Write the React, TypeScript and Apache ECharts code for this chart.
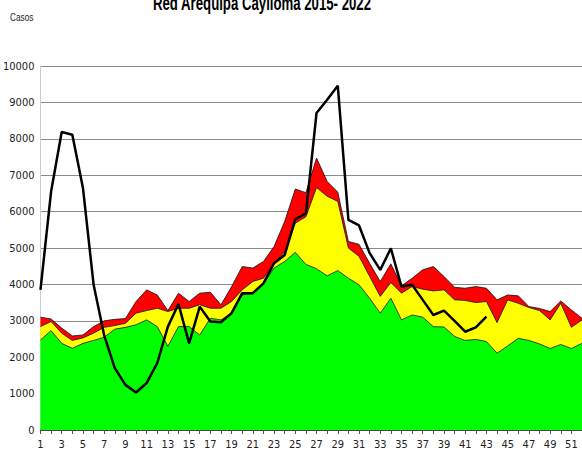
import React, { useEffect, useRef } from "react";
import * as echarts from "echarts";

const weeks: string[] = Array.from({ length: 52 }, (_, i) => String(i + 1));

// Bottom layer (green)
const greenValues: number[] = [
  2475, 2730, 2380, 2245, 2380, 2460, 2550, 2770, 2820, 2890,
  3025, 2840, 2300, 2840, 2840, 2610, 3070, 3025, 3210, 3710,
  3760, 4015, 4450, 4630, 4880, 4550, 4430, 4235, 4380, 4170,
  3990, 3620, 3210, 3620, 3025, 3160, 3100, 2840, 2830, 2570,
  2460, 2490, 2430, 2110, 2310, 2520, 2460, 2365, 2240, 2350,
  2240, 2380,
];

// Middle layer (yellow)
const yellowValues: number[] = [
  365, 250, 280, 215, 150, 200, 270, 100, 110, 320,
  255, 505, 955, 505, 505, 830, 275, 320, 320, 140,
  320, 155, 130, 270, 800, 1310, 2230, 2185, 1900, 830,
  780, 600, 460, 430, 735, 780, 770, 980, 1020, 1005,
  1100, 1010, 1100, 840, 1265, 960, 905, 915, 785, 1130,
  580, 645,
];

// Top layer (red)
const redValues: number[] = [
  260, 70, 140, 125, 80, 180, 180, 170, 130, 320,
  570, 365, 25, 415, 185, 320, 440, 95, 410, 640,
  370, 460, 460, 830, 940, 660, 810, 410, 255, 180,
  330, 360, 410, 515, 200, 230, 530, 670, 370, 345,
  335, 440, 365, 625, 135, 205, 25, 60, 230, 65,
  480, 45,
];

// Current year (black line)
const currentValues: number[] = [
  3850, 6550, 8185, 8110, 6650, 4000, 2600, 1700, 1240, 1030,
  1290, 1840, 2840, 3460, 2380, 3390, 2980, 2960, 3210, 3760,
  3760, 4030, 4580, 4810, 5790, 5950, 8710, 9075, 9460, 5775,
  5620, 4860, 4400, 4990, 3940, 3990, 3575, 3160, 3280, 3000,
  2700, 2820, 3115,
];

const titleText = "Red Arequipa Caylloma 2015- 2022";
const yAxisName = "Casos";

const narrow = "'Liberation Sans Narrow', 'DejaVu Sans Condensed', 'Arial Narrow', 'Liberation Sans', sans-serif";

export default function App() {
  const ref = useRef<HTMLDivElement>(null);
  useEffect(() => {
    if (!ref.current) return;
    const chart = echarts.init(ref.current, undefined, { renderer: "svg" });
    const areaSeries = (name: string, data: number[], color: string) => ({
      name,
      type: "line",
      stack: "total",
      data,
      symbol: "none",
      lineStyle: { color: "#111", width: 0.8 },
      areaStyle: { color, opacity: 1 },
      z: 2,
    });
    chart.setOption({
      animation: false,
      backgroundColor: "#ffffff",
      grid: { left: 40, right: -2, top: 66, bottom: 24, containLabel: false },
      graphic: [
        {
          type: "text",
          x: 262,
          y: 4,
          scaleX: 0.66,
          style: {
            text: titleText,
            fontSize: 20,
            fontWeight: "bold",
            fontFamily: "'Liberation Sans', Arial, sans-serif",
            fill: "#000",
            align: "center",
            verticalAlign: "middle",
          },
        },
        {
          type: "text",
          x: 10,
          y: 17,
          scaleX: 0.75,
          style: {
            text: yAxisName,
            fontSize: 11,
            fontFamily: "'Liberation Sans', Arial, sans-serif",
            fill: "#222",
            align: "left",
            verticalAlign: "middle",
          },
        },
      ],
      xAxis: {
        type: "category",
        data: weeks,
        boundaryGap: false,
        axisLine: { lineStyle: { color: "#333", width: 1.5 } },
        axisTick: { show: true, interval: 0, length: 4, lineStyle: { color: "#555" } },
        axisLabel: {
          interval: 1,
          margin: 9,
          fontSize: 11,
          color: "#222",
          fontFamily: narrow,
        },
        splitLine: { show: false },
      },
      yAxis: {
        type: "value",
        min: 0,
        max: 10000,
        interval: 1000,
        axisLine: { show: true, lineStyle: { color: "#cccccc", width: 1 } },
        axisTick: { show: false },
        axisLabel: {
          margin: 6,
          fontSize: 11,
          color: "#222",
          fontFamily: narrow,
          formatter: (v: number) => String(v),
        },
        splitLine: { show: true, lineStyle: { color: "#8a8a8a", width: 1.2 } },
      },
      series: [
        areaSeries("green", greenValues, "#00ff00"),
        areaSeries("yellow", yellowValues, "#ffff00"),
        areaSeries("red", redValues, "#ff0000"),
        {
          name: "2022",
          type: "line",
          data: currentValues,
          symbol: "none",
          lineStyle: { color: "#000", width: 2.5 },
          z: 5,
        },
      ],
    });
    return () => chart.dispose();
  }, []);
  return (
    <div
      ref={ref}
      style={{ position: "fixed", left: 0, top: 0, width: 582, height: 454 }}
    />
  );
}
